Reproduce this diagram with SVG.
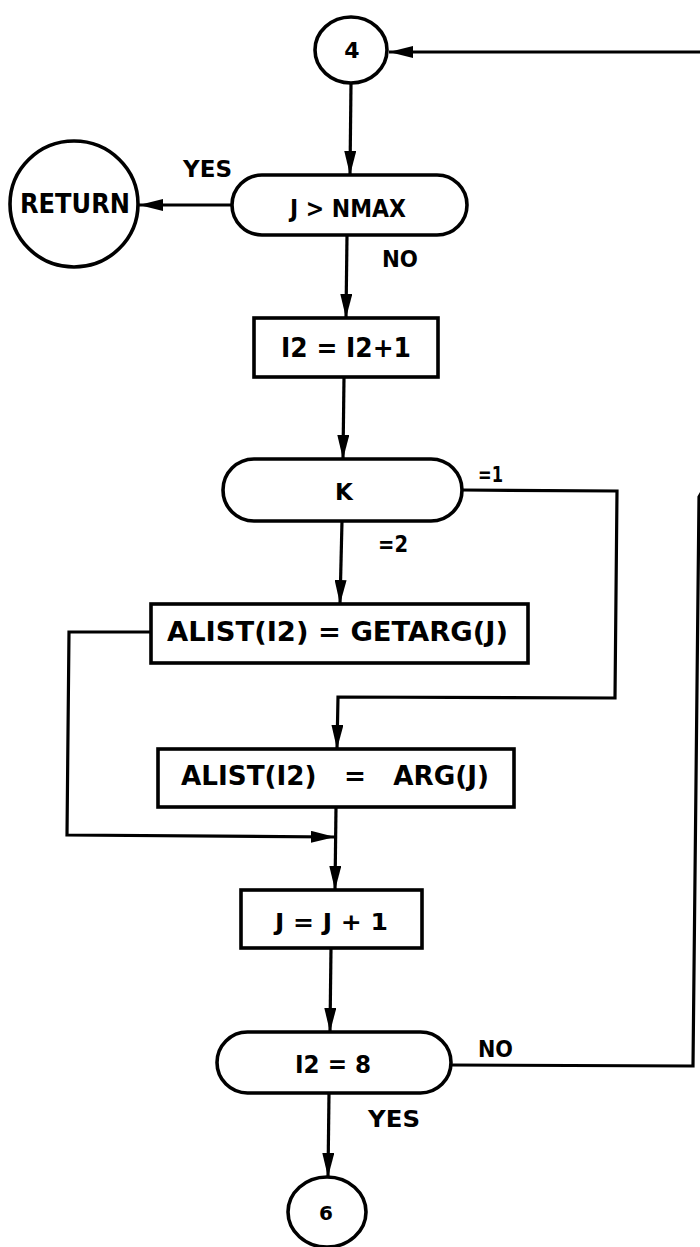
<svg xmlns="http://www.w3.org/2000/svg" width="700" height="1247" viewBox="0 0 700 1247">
<defs>
<style>
.shape{fill:#fff;stroke:#000;stroke-width:3.6}
.edge{fill:none;stroke:#000;stroke-width:3.2;marker-end:url(#ah)}
text{font-family:"DejaVu Sans","Liberation Sans",sans-serif;font-weight:bold;fill:#000}
.c{text-anchor:middle}
</style>
<marker id="ah" viewBox="0 0 24 12" refX="24" refY="6" markerWidth="24" markerHeight="12" orient="auto" markerUnits="userSpaceOnUse">
<path d="M0,0 L24,6 L0,12 Z" fill="#000"/>
</marker>
</defs>
<rect width="700" height="1247" fill="#fff"/>

<g id="connectors">
<path class="edge" d="M451,1065 L693,1066 L699,497 L703,490 L703,52 L389,52"/>
<path class="edge" d="M351,83 L350,175"/>
<path class="edge" d="M232,205 L139,205"/>
<path class="edge" d="M347,235 L346,318"/>
<path class="edge" d="M344,377 L343,459"/>
<path class="edge" d="M342,521 L340,604"/>
<path class="edge" d="M462,490 L617,491 L615,698 L338,697 L337,749"/>
<path class="edge" d="M151,632 L69,632 L67,835 L335,837"/>
<path class="edge" d="M336,807 L335,890"/>
<path class="edge" d="M331,948 L330,1032"/>
<path class="edge" d="M329,1093 L328,1177"/>
<text x="183" y="177" font-size="23" textLength="49" lengthAdjust="spacingAndGlyphs">YES</text>
<text x="382" y="267" font-size="23" textLength="36" lengthAdjust="spacingAndGlyphs">NO</text>
<text x="478" y="482" font-size="21" textLength="25" lengthAdjust="spacingAndGlyphs">=1</text>
<text x="378" y="552" font-size="23" textLength="30" lengthAdjust="spacingAndGlyphs">=2</text>
<text x="478" y="1057" font-size="23" textLength="35" lengthAdjust="spacingAndGlyphs">NO</text>
<text x="368" y="1127" font-size="23" textLength="52" lengthAdjust="spacingAndGlyphs">YES</text>
</g>

<g id="node-c4">
<ellipse class="shape" cx="351" cy="50" rx="36" ry="33"/>
<text class="c" x="352" y="58" font-size="22">4</text>
</g>

<g id="node-return">
<ellipse class="shape" cx="74" cy="204" rx="64" ry="63"/>
<text x="20" y="213" font-size="26" textLength="110" lengthAdjust="spacingAndGlyphs">RETURN</text>
</g>

<g id="node-jnmax">
<rect class="shape" x="232" y="175" width="235" height="60" rx="30" ry="30"/>
<text x="290" y="217" font-size="24" textLength="116" lengthAdjust="spacingAndGlyphs">J &gt; NMAX</text>
</g>

<g id="node-i2inc">
<rect class="shape" x="254" y="318" width="184" height="59"/>
<text x="281" y="357" font-size="26" textLength="130" lengthAdjust="spacingAndGlyphs">I2 = I2+1</text>
</g>

<g id="node-k">
<rect class="shape" x="223" y="459" width="239" height="62" rx="31" ry="31"/>
<text class="c" x="344" y="500" font-size="23">K</text>
</g>

<g id="node-getarg">
<rect class="shape" x="151" y="604" width="377" height="59"/>
<text x="167" y="641" font-size="26" textLength="341" lengthAdjust="spacingAndGlyphs">ALIST(I2) = GETARG(J)</text>
</g>

<g id="node-arg">
<rect class="shape" x="158" y="749" width="356" height="58"/>
<text x="181" y="785" font-size="26" textLength="308" lengthAdjust="spacingAndGlyphs" xml:space="preserve">ALIST(I2)   =   ARG(J)</text>
</g>

<g id="node-jinc">
<rect class="shape" x="241" y="890" width="181" height="58"/>
<text x="275" y="930" font-size="23" textLength="113" lengthAdjust="spacingAndGlyphs">J = J + 1</text>
</g>

<g id="node-i2eq8">
<rect class="shape" x="217" y="1032" width="234" height="61" rx="30.5" ry="30.5"/>
<text x="295" y="1073" font-size="25" textLength="76" lengthAdjust="spacingAndGlyphs">I2 = 8</text>
</g>

<g id="node-c6">
<ellipse class="shape" cx="327" cy="1212" rx="39" ry="35"/>
<text class="c" x="326" y="1220" font-size="20">6</text>
</g>
</svg>
